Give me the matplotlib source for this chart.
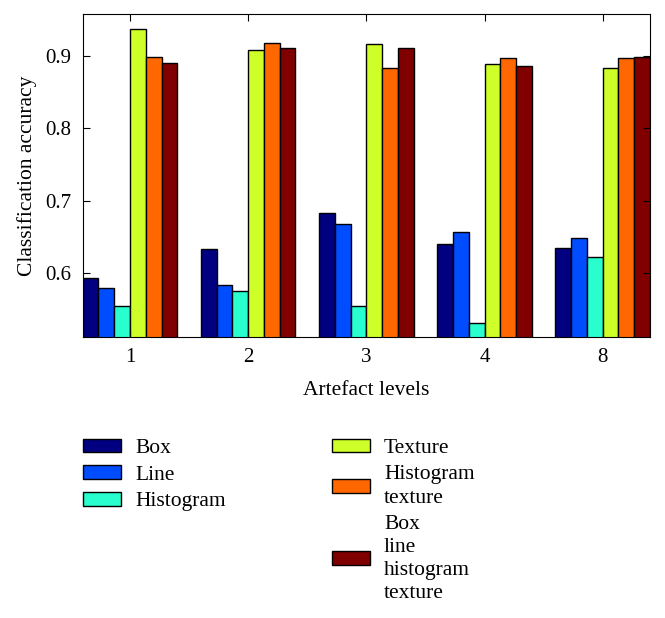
import numpy as np
import matplotlib.pyplot as plt

plt.rcParams['font.family'] = ['Liberation Serif', 'DejaVu Serif']

# Data
levels = ["1", "2", "3", "4", "8"]
series = ["Box", "Line", "Histogram", "Texture",
          "Histogram\ntexture", "Box\nline\nhistogram\ntexture"]

box = [0.593, 0.634, 0.683, 0.640, 0.635]
line = [0.580, 0.584, 0.668, 0.657, 0.649]
histogram = [0.555, 0.576, 0.555, 0.532, 0.623]
texture = [0.938, 0.909, 0.917, 0.889, 0.883]
hist_texture = [0.898, 0.918, 0.883, 0.897, 0.897]
all_features = [0.891, 0.911, 0.911, 0.886, 0.899]

values = [box, line, histogram, texture, hist_texture, all_features]
colors = plt.cm.jet(np.linspace(0, 1, len(series)))

fig = plt.figure(figsize=(6.65, 6.18), dpi=100)
ax = fig.add_axes([0.1244, 0.4542, 0.853, 0.5231])

x = np.arange(1, len(levels) + 1)
group_w = 0.8
bar_w = group_w / len(series)

for i, (name, vals) in enumerate(zip(series, values)):
    offs = -group_w / 2 + bar_w * (i + 0.5)
    ax.bar(x + offs, vals, bar_w, color=colors[i], edgecolor='black',
           linewidth=1.0, label=name)

ax.set_xlim(0.6, 5.4)
ax.set_ylim(0.5117, 0.958)
ax.set_xticks(x)
ax.set_xticklabels(levels)
ax.set_yticks([0.6, 0.7, 0.8, 0.9])
ax.tick_params(direction='in', top=True, right=True, labelsize=15,
               length=5, pad=8)
ax.set_xlabel("Artefact levels", fontsize=15.5, labelpad=10)
ax.set_ylabel("Classification accuracy", fontsize=15.5, labelpad=6)

leg = fig.legend(loc='upper left', bbox_to_anchor=(0.1255, 0.29), ncol=2,
                 frameon=False, fontsize=15.5, handlelength=1.75,
                 handleheight=0.6, handletextpad=0.65, labelspacing=0.33,
                 columnspacing=4.95, borderaxespad=0, borderpad=0)
for t in leg.get_texts():
    t.set_linespacing(1.3)

fig.savefig("out.png", dpi=100)
